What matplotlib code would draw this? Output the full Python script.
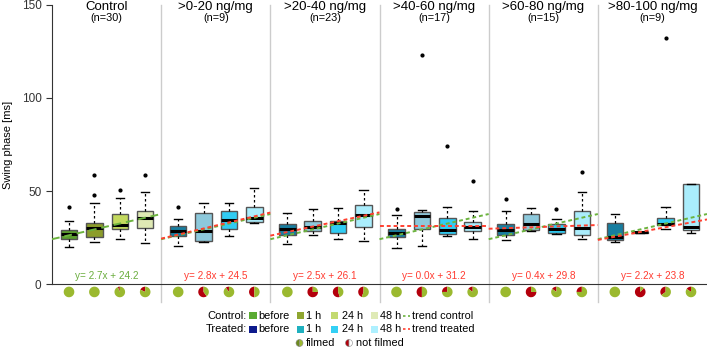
import numpy as np
import matplotlib
matplotlib.use('Agg')
import matplotlib.pyplot as plt
from matplotlib.patches import Wedge, Rectangle
from matplotlib.transforms import ScaledTranslation
from matplotlib.lines import Line2D

plt.rcParams['font.family'] = ['Liberation Sans', 'DejaVu Sans']

## DATA ##
titles = ["Control", ">0-20 ng/mg", ">20-40 ng/mg", ">40-60 ng/mg", ">60-80 ng/mg", ">80-100 ng/mg"]
n_animals = [30, 9, 23, 17, 15, 9]
slopes = [2.7, 2.8, 2.5, 0.0, 0.4, 2.2]
intercepts = [24.2, 24.5, 26.1, 31.2, 29.8, 23.8]

# 6 groups x (before, 1 h, 24 h, 48 h)
whislo = [20.2, 22.9, 24.5, 22.2, 20.5, 22.5, 25.8, 32.7, 21.6, 26.4, 24.3, 23.1,
          19.3, 20.5, 26.1, 24.5, 23.8, 28.6, 26.8, 24.3, 22.7, 27.6, 29.5, 27.7]
q1 = [24.1, 25.2, 29.5, 30.2, 26.1, 23.4, 29.7, 33.6, 26.4, 28.6, 27.5, 30.9,
      25.2, 29.5, 26.8, 28.8, 26.3, 29.1, 27.4, 26.3, 23.9, 27.7, 31.7, 29.0]
med = [27.0, 30.4, 31.8, 35.4, 28.8, 28.6, 34.3, 35.4, 29.5, 30.6, 32.9, 37.0,
       27.7, 36.6, 29.1, 30.7, 29.1, 32.5, 29.5, 30.0, 25.4, 27.9, 32.2, 30.9]
q3 = [29.1, 32.7, 37.6, 39.5, 31.4, 38.4, 39.2, 41.3, 32.2, 34.1, 34.1, 42.4,
      29.7, 39.0, 35.4, 33.3, 32.2, 37.9, 32.2, 39.3, 32.7, 28.1, 35.7, 53.8]
whishi = [34.0, 43.5, 46.5, 49.7, 34.9, 43.5, 43.8, 51.8, 38.4, 40.6, 41.1, 50.8,
          37.0, 40.0, 41.6, 39.5, 39.3, 41.1, 34.9, 49.7, 37.9, 28.2, 41.6, 53.8]
fliers = [[41.6], [58.6, 48.1], [50.8], [58.8], [41.5], [], [], [], [], [], [], [],
          [40.4], [123.0], [74.2], [55.4], [45.8], [], [40.6], [60.1], [], [], [132.0], []]

# share of not filmed animals (pies)
not_filmed = [0.0, 0.0, 0.06, 0.18, 0.0, 0.6, 0.1, 0.5, 0.0, 0.75, 0.55, 0.45,
              0.0, 0.5, 0.25, 0.15, 0.0, 0.75, 0.15, 0.25, 0.0, 0.88, 0.35, 0.15]

## COLORS ##
col_control = ['#5a9e2e', '#8c9d2b', '#c3d95e', '#dfe9b4']
col_treated = ['#177ea0', '#8dc9dc', '#30ccf3', '#aaedfc']
leg_control = ['#5aaa32', '#8fa630', '#c3da70', '#dfeab6']
leg_treated = ['#0d1a8c', '#1fb0bf', '#33d0f5', '#aef0ff']
green_trend = '#6cb33f'
red_trend = '#ff4030'
pie_green = '#9bb92f'
pie_red = '#b3000c'

## FIGURE ##
fig = plt.figure(figsize=(7.07, 3.48), dpi=100)
ax = fig.add_axes([52/707, 1-284.3/348, 655/707, (284.3-4.7)/348])

W = 4.3
pos = [i*W + 0.67 + j for i in range(6) for j in range(4)]

stats = []
for k in range(24):
    stats.append(dict(med=med[k], q1=q1[k], q3=q3[k], whislo=whislo[k],
                      whishi=whishi[k], fliers=fliers[k]))

bp = ax.bxp(stats, positions=pos, widths=0.65, patch_artist=True,
            boxprops=dict(edgecolor='#555555', linewidth=1),
            medianprops=dict(color='black', linewidth=2.2),
            whiskerprops=dict(color='black', linestyle=(0, (2, 2)), linewidth=0.9),
            capprops=dict(color='black', linewidth=1),
            flierprops=dict(marker='o', markersize=2, markerfacecolor='black',
                            markeredgecolor='black'))
for k, patch in enumerate(bp['boxes']):
    if k < 4:
        patch.set_facecolor(col_control[k % 4])
    else:
        patch.set_facecolor(col_treated[k % 4])

# trend lines
for i in range(6):
    xs = np.array([i*W, (i+1)*W])
    xr = (xs - i*W) * 5 / W
    ctrl = slopes[0]*xr + intercepts[0]
    if i == 0:
        ax.plot(xs, ctrl, color=green_trend, ls=(0, (4, 2.5)), lw=1.4, zorder=5)
    else:
        ax.plot(xs, ctrl, color=green_trend, ls=(0, (2, 1.5)), lw=1.4, zorder=5)
        ax.plot(xs, slopes[i]*xr + intercepts[i], color=red_trend, ls=(0, (2, 1.5)), lw=1.4, zorder=6)
    eq_col = '#6aad3d' if i == 0 else '#ff3b30'
    ax.text(i*W + W/2, 4.2, "y= %.1fx + %.1f" % (slopes[i], intercepts[i]),
            color=eq_col, ha='center', va='center', fontsize=7.2)
    ax.text(i*W + W/2, 149, titles[i], ha='center', va='center', fontsize=9.5)
    ax.text(i*W + W/2, 142.9, "(n=%d)" % n_animals[i], ha='center', va='center', fontsize=7.8)

# separators
for i in range(1, 6):
    ax.plot([i*W, i*W], [-9.6, 150], color='#cccccc', lw=1, clip_on=False, zorder=0)

ax.set_xlim(0, 6*W)
ax.set_ylim(0, 150)
ax.set_xticks([])
ax.set_yticks([0, 50, 100, 150])
ax.tick_params(axis='y', labelsize=8.5, length=4, color='#333333', labelcolor='#333333')
ax.spines['top'].set_visible(False)
ax.spines['right'].set_visible(False)
ax.spines['left'].set_color('#333333')
ax.spines['bottom'].set_color('#333333')
ax.set_ylabel("Swing phase [ms]", fontsize=8, labelpad=6)

# pies
r = 0.053
for k in range(24):
    tr = fig.dpi_scale_trans + ScaledTranslation(pos[k], -4.1, ax.transData)
    f = not_filmed[k]
    if f > 0:
        w = Wedge((0, 0), r, 90, 90 + 360*f, facecolor=pie_red, edgecolor='none', transform=tr)
        fig.add_artist(w)
    w = Wedge((0, 0), r, 90 + 360*f, 450, facecolor=pie_green, edgecolor='none', transform=tr)
    fig.add_artist(w)

## LEGEND ##
def fx(px):
    return px / 707

def fy(py):
    return 1 - py / 348

def square(px, py, c):
    s = 7
    fig.add_artist(Rectangle((fx(px - s/2), fy(py + s/2)), s/707, s/348,
                             facecolor=c, edgecolor='none', transform=fig.transFigure))

row_y = [315.7, 329.3]
row_lab = ["Control:", "Treated:"]
row_cols = [leg_control, leg_treated]
row_trend = ["trend control", "trend treated"]
row_tcol = [green_trend, red_trend]
sq_x = [253, 300, 334, 374]
lab_x = [258, 306, 342, 380]
labels = ["before", "1 h", "24 h", "48 h"]
for r_i in range(2):
    y = row_y[r_i]
    fig.text(fx(247), fy(y), row_lab[r_i], ha='right', va='center', fontsize=8)
    for j in range(4):
        square(sq_x[j], y, row_cols[r_i][j])
        fig.text(fx(lab_x[j]), fy(y), labels[j], ha='left', va='center', fontsize=7.8)
    fig.add_artist(Line2D([fx(403), fx(410)], [fy(y), fy(y)], color=row_tcol[r_i],
                          ls=(0, (1.5, 1.5)), lw=1.2, transform=fig.transFigure))
    fig.text(fx(412), fy(y), row_trend[r_i], ha='left', va='center', fontsize=7.8)

# filmed / not filmed icons
ri = 0.035
for cx, c1, c2, txt in [(299.5, '#6d8a1e', pie_green, "filmed"), (349, pie_red, 'white', "not filmed")]:
    tr = fig.dpi_scale_trans + ScaledTranslation(fx(cx), fy(343), fig.transFigure)
    fig.add_artist(Wedge((0, 0), ri, 90, 270, facecolor=c1, edgecolor='#888888', lw=0.4, transform=tr))
    fig.add_artist(Wedge((0, 0), ri, 270, 450, facecolor=c2, edgecolor='#888888', lw=0.4, transform=tr))
    fig.text(fx(cx + 6.5), fy(343), txt, ha='left', va='center', fontsize=7.8)

fig.savefig('out.png', dpi=100)
